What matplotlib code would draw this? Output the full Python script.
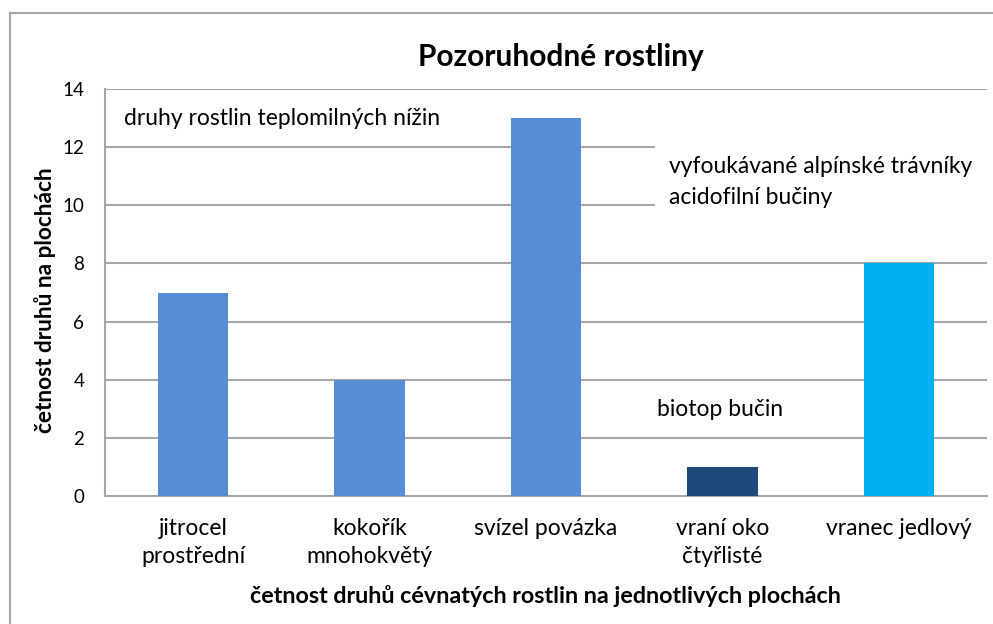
import matplotlib
matplotlib.use("Agg")
import matplotlib.pyplot as plt
from matplotlib.lines import Line2D
from matplotlib.patches import Rectangle

categories = ["jitrocel\nprostřední", "kokořík\nmnohokvětý", "svízel povázka",
              "vraní oko\nčtyřlisté", "vranec jedlový"]
values = [7, 4, 13, 1, 8]
colors = ["#558ED5", "#558ED5", "#558ED5", "#1F497D", "#00B0F0"]
yticks = [0, 2, 4, 6, 8, 10, 12, 14]
title = "Pozoruhodné rostliny"
ylabel = "četnost druhů na plochách"
xlabel = "četnost druhů cévnatých rostlin na jednotlivých plochách"

plt.rcParams['font.family'] = ['Lato', 'DejaVu Sans']

fig = plt.figure(figsize=(9.93, 6.24), dpi=100)
ax = fig.add_axes([105/993, 1-496/624, (987-105)/993, (496-89)/624])

x = list(range(len(categories)))
ax.bar(x, values, width=0.40, color=colors, zorder=3)
ax.set_xlim(-0.5, len(categories) - 0.5)
ax.set_ylim(0, 14)
ax.set_yticks(yticks)
ax.set_yticklabels([str(v) for v in yticks], fontsize=13.5)
ax.set_xticks(x)
ax.set_xticklabels(categories, fontsize=16.5, linespacing=1.38, va='top')
ax.tick_params(axis='both', length=0)
ax.tick_params(axis='y', pad=15)
ax.tick_params(axis='x', pad=16)

for v in yticks[1:]:
    ax.axhline(v, color="#A6A6A6", lw=1.5, zorder=1)
for s in ['top', 'right']:
    ax.spines[s].set_visible(False)
for s in ['left', 'bottom']:
    ax.spines[s].set_color("#A6A6A6")
    ax.spines[s].set_linewidth(1.5)

# white box behind right annotation
ax.add_patch(Rectangle((2.616, 9.67), 4.5 - 2.616, 12.25 - 9.67,
                       facecolor='white', edgecolor='none', zorder=2))

ax.text(-0.394, 13.0, "druhy rostlin teplomilných nížin", fontsize=16.5,
        ha='left', va='center', zorder=4)
ax.text(2.70, 11.35, "vyfoukávané alpínské trávníky", fontsize=16.5,
        ha='left', va='center', zorder=4)
ax.text(2.70, 10.28, "acidofilní bučiny", fontsize=16.5,
        ha='left', va='center', zorder=4)
ax.text(2.63, 2.96, "biotop bučin", fontsize=16.5,
        ha='left', va='center', zorder=4)

fig.text(561/993, 1-57/624, title, fontsize=21.5, fontweight='bold',
         ha='center', va='center')
fig.text(45/993, 1-300/624, ylabel, fontsize=16.3, fontweight='bold',
         rotation=90, ha='center', va='center')
fig.text(545/993, 1-596/624, xlabel, fontsize=16.8, fontweight='bold',
         ha='center', va='center')

# outer chart border (partially visible)
fig.add_artist(Line2D([10/993, 10/993], [0, 1-13/624], transform=fig.transFigure,
                      color="#A6A6A6", lw=1.5))
fig.add_artist(Line2D([10/993, 1], [1-13/624, 1-13/624], transform=fig.transFigure,
                      color="#A6A6A6", lw=1.5))

fig.savefig("out.png", dpi=100)
